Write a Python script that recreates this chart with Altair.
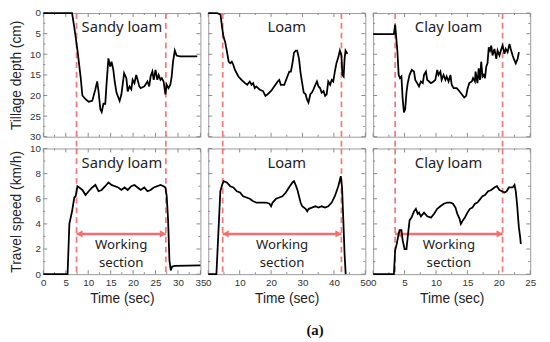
import altair as alt
import pandas as pd

# ---------------- data ----------------
soils = ["Sandy loam", "Loam", "Clay loam"]
x_max = [35, 50, 25]
x_major = [[0, 5, 10, 15, 20, 25, 30, 35],
           [0, 10, 20, 30, 40, 50],
           [0, 5, 10, 15, 20, 25]]
x_minor = [[2.5, 7.5, 12.5, 17.5, 22.5, 27.5, 32.5],
           [5, 15, 25, 35, 45],
           [2.5, 7.5, 12.5, 17.5, 22.5]]
depth_major = [0, 5, 10, 15, 20, 25, 30]
depth_minor = [2.5, 7.5, 12.5, 17.5, 22.5, 27.5]
speed_major = [0, 2, 4, 6, 8, 10]
speed_minor = [1, 3, 5, 7, 9]

# working section boundaries (sec)
work_start = [7.4, 4.6, 3.5]
work_end = [27.3, 42.4, 20.6]

# tillage depth (cm)
sandy_depth_t = [0, 6.4, 6.9, 7.6, 8.3, 8.7, 9.4, 10.1, 10.9, 11.6, 12.0, 12.3, 12.7, 13.0,
                 13.4, 13.8, 14.1, 14.5, 14.9, 15.2, 15.6, 15.9, 16.3, 17.0, 17.4, 18.0, 18.5,
                 18.8, 19.2, 19.6, 19.9, 20.3, 20.7, 21.0, 21.4, 21.7, 22.5, 23.2, 23.6, 23.9,
                 24.3, 24.6, 25.0, 25.4, 25.7, 26.1, 26.4, 26.8, 27.2, 27.5, 27.9, 28.3, 28.6,
                 28.9, 29.3, 29.7, 30.4, 34.3]
sandy_depth = [0, 0, 3.5, 9, 15.4, 20, 20.9, 21.5, 21.3, 18.5, 16.6, 19, 23.3, 24,
               22, 22, 17, 11, 13, 11.8, 13.8, 16.6, 19.3, 21.3, 19.7, 14.6, 15.8,
               19, 17.8, 18.5, 16.2, 17, 15, 16.2, 17.8, 18.2, 17.8, 16.6, 17.8, 15.4,
               14.2, 16.2, 13.8, 16.2, 15, 16.2, 15.8, 16.6, 19.7, 17.4, 18.2, 17.4, 15.4,
               11.8, 9.1, 10.3, 10.5, 10.5]

loam_depth_t = [0, 2.8, 3.9, 4.4, 4.9, 5.4, 5.9, 6.5, 7.0, 7.5, 8.0, 8.5, 9.6, 10.6, 11.7,
                12.4, 13.2, 13.8, 14.3, 14.8, 15.3, 16.4, 17.4, 18.2, 18.9, 20.0, 21.0, 22.1,
                22.6, 23.1, 24.2, 25.2, 25.8, 26.3, 26.8, 27.3, 27.9, 28.3, 28.9, 29.4, 29.9,
                30.4, 31.0, 31.4, 31.9, 32.5, 33.0, 33.5, 34.1, 34.6, 35.1, 35.6, 36.1, 36.7,
                37.2, 37.7, 38.2, 38.8, 39.3, 39.8, 40.3, 40.8, 41.4, 41.9, 42.4, 42.7, 43.1,
                43.4, 43.7, 44.3]
loam_depth = [0, 0, 0.4, 3.5, 5.9, 7.1, 9.1, 11.8, 12.2, 11.8, 12.6, 13.8, 15.4, 16.2, 17,
              17.4, 16.6, 17.4, 17, 18.2, 17.8, 18.6, 18.9, 20.1, 19.7, 18.9, 17.8, 16.6,
              16.2, 17.4, 17.4, 15.4, 14.2, 14.2, 12.2, 9.6, 9.1, 9.1, 11.1, 14.6, 17,
              19.3, 19.7, 20.9, 21.7, 19.7, 19.3, 18.5, 17.4, 16.6, 17.8, 18.2, 19.3, 18.9,
              20.1, 19.7, 16.6, 17.4, 16.2, 16.6, 14.2, 12.2, 10.7, 9.1, 10.3, 15, 15.4,
              11.1, 9.1, 9.9]

clay_depth_t = [0, 3.3, 3.5, 3.85, 4.06, 4.27, 4.5, 4.7, 4.9, 5.1, 5.3, 5.5, 5.8, 6.15, 6.5,
                6.7, 7.0, 7.3, 7.6, 7.9, 8.1, 8.4, 8.6, 8.9, 9.2, 9.6, 9.9, 10.2, 10.4, 10.7,
                10.9, 11.2, 11.5, 11.7, 12.0, 12.3, 12.5, 12.8, 13.3, 13.7, 14.1, 14.5, 14.8,
                15.0, 15.3, 15.7, 15.9, 16.2, 16.3, 16.6, 16.8, 17.0, 17.2, 17.4, 17.6, 17.8,
                18.0, 18.2, 18.4, 18.6, 18.8, 19.0, 19.3, 19.6, 19.8, 20.1, 20.4, 20.6, 20.9,
                21.1, 21.4, 21.7, 21.9, 22.2, 22.4, 22.7, 23.0, 23.2]
clay_depth = [5.1, 5.1, 2.8, 9.1, 15, 15.8, 15.4, 20.9, 24.1, 23.3, 19.3, 17, 15, 13.8, 14.2,
              16.2, 17, 17.8, 16.6, 17, 15, 14.2, 16.2, 16.6, 17, 16.6, 16.2, 13.8, 15, 14.2,
              16.2, 15, 16.2, 15.4, 16.6, 15, 17.4, 18.2, 18.2, 18.9, 19.7, 20.5, 20.1,
              18.5, 17, 16.6, 15.8, 16.6, 14.2, 17, 13.4, 16.2, 11.8, 15.4, 15, 15.8,
              13.0, 12.2, 8.3, 9.1, 7.9, 10.3, 8.7, 11.1, 9.1, 10.3, 8.7, 7.9, 9.9,
              8.7, 9.5, 7.5, 8.7, 10.3, 11.1, 12.2, 11.1, 9.5]

# travel speed (km/h)
sandy_speed_t = [0, 5.4, 5.8, 6.4, 6.9, 7.2, 7.6, 8.0, 8.7, 9.4, 10.1, 10.9, 11.6, 12.3, 13.0,
                 13.8, 14.5, 15.2, 15.9, 16.7, 17.4, 18.1, 18.8, 19.6, 20.3, 21.0, 21.7, 22.5,
                 23.2, 23.9, 24.6, 25.4, 26.1, 26.8, 27.2, 27.5, 27.8, 28.1, 28.4, 28.7, 29.3, 35]
sandy_speed = [0, 0, 4.0, 5.0, 6.1, 6.2, 7.0, 6.9, 6.7, 6.3, 6.6, 6.9, 7.1, 6.6, 6.7,
               7.0, 7.3, 7.1, 7.0, 6.9, 6.7, 6.9, 6.7, 7.0, 7.1, 6.9, 6.7, 6.9,
               6.6, 6.7, 6.9, 7.0, 7.1, 7.0, 6.9, 6.2, 4.3, 1.1, 0.3, 0.6, 0.65, 0.7]

loam_speed_t = [0, 2.6, 3.85, 4.4, 4.9, 5.9, 7.0, 8.0, 9.1, 10.1, 11.1, 12.2, 13.2, 14.3, 15.3,
                16.4, 17.4, 18.4, 19.5, 20.0, 20.5, 21.6, 22.6, 23.6, 24.7, 25.7, 26.8, 27.3,
                27.8, 28.4, 28.9, 29.4, 29.9, 31.0, 31.5, 32.0, 33.0, 34.1, 35.1, 36.1, 37.2,
                38.2, 39.3, 40.3, 41.4, 41.9, 42.2, 42.6, 43.0, 43.4, 43.75]
loam_speed = [0, 0, 6.6, 7.1, 7.4, 7.3, 7.0, 6.9, 6.6, 6.5, 6.2, 6.1, 6.0, 5.8, 5.7,
              5.7, 5.7, 5.7, 5.6, 5.4, 5.7, 6.0, 6.1, 6.2, 6.5, 6.9, 7.3, 7.4,
              7.1, 6.7, 6.2, 5.7, 5.4, 5.2, 5.0, 5.2, 5.3, 5.4, 5.3, 5.4, 5.3,
              5.4, 5.7, 6.2, 7.0, 7.5, 7.8, 6.9, 4.3, 1.6, 0]

clay_speed_t = [0, 3.3, 3.5, 3.75, 3.96, 4.2, 4.5, 4.7, 5.0, 5.3, 5.5, 5.8, 6.1, 6.5, 6.8, 7.1,
                7.3, 7.6, 8.1, 8.6, 9.2, 9.7, 10.2, 10.7, 11.25, 11.8, 12.3, 12.7, 13.1, 13.4,
                13.75, 13.96, 14.3, 14.6, 15.0, 15.4, 15.8, 16.2, 16.6, 17.0, 17.4, 17.8, 18.3,
                18.8, 19.3, 19.7, 20.1, 20.5, 20.9, 21.25, 21.6, 21.9, 22.2, 22.5, 22.7, 22.9,
                23.1, 23.2, 23.4, 23.5]
clay_speed = [0, 0, 1.9, 2.4, 2.95, 3.5, 3.5, 2.7, 2.0, 2.0, 2.95, 4.3, 4.5, 5.0, 5.2, 4.8,
              4.9, 4.6, 4.9, 4.6, 4.5, 4.8, 5.2, 5.4, 5.6, 5.7, 5.7, 5.6, 5.3, 4.8,
              4.4, 4.0, 4.3, 4.5, 4.9, 5.2, 5.3, 5.6, 5.7, 5.95, 6.2, 6.3, 6.6,
              6.7, 6.9, 7.0, 6.7, 6.6, 6.5, 6.6, 6.9, 6.9, 6.9, 7.1, 6.6, 5.6,
              4.3, 3.7, 2.95, 2.4]

depth_series = [(sandy_depth_t, sandy_depth), (loam_depth_t, loam_depth), (clay_depth_t, clay_depth)]
speed_series = [(sandy_speed_t, sandy_speed), (loam_speed_t, loam_speed), (clay_speed_t, clay_speed)]

label_x = [17.5, 25, 12]
arrow_level = 3.2
work_text = [("Working", 2.35), ("section", 0.92)]

# ---------------- styling ----------------
W, HT, HB = 160, 126, 128
GAP_V = 12
RED = "#F47C7E"
ARROW = "#F36E70"
FRAME = "#9a9a9a"
TICK = "#8a8a8a"
TXT_FONT = "Noto Sans"
AX_FONT = "Liberation Sans"


def tick_layers(X, Y, xmaj, xmin, ymaj, ymin, H):
    layers = []
    for vals, ln in ((xmaj, 4), (xmin, 2)):
        d = pd.DataFrame({"t": vals})
        base = alt.Chart(d).mark_rule(color=TICK, strokeWidth=1)
        layers.append(base.encode(x=X, y=alt.value(H), y2=alt.value(H - ln)))
        layers.append(base.encode(x=X, y=alt.value(0), y2=alt.value(ln)))
    for vals, ln in ((ymaj, 4), (ymin, 2)):
        d = pd.DataFrame({"v": vals})
        base = alt.Chart(d).mark_rule(color=TICK, strokeWidth=1)
        layers.append(base.encode(y=Y, x=alt.value(0), x2=alt.value(ln)))
        layers.append(base.encode(y=Y, x=alt.value(W), x2=alt.value(W - ln)))
    return layers


def panel(i, kind):
    top = kind == "depth"
    H = HT if top else HB
    xs = alt.Scale(domain=[0, x_max[i]], nice=False, zero=False)
    if top:
        ys = alt.Scale(domain=[0, 30], nice=False, reverse=True)
        ymaj, ymin = depth_major, depth_minor
        ytitle = "Tillage depth (cm)"
        t, v = depth_series[i]
        text_y = 3.5
    else:
        ys = alt.Scale(domain=[0, 10], nice=False)
        ymaj, ymin = speed_major, speed_minor
        ytitle = "Travel speed (km/h)"
        t, v = speed_series[i]
        text_y = 8.8
    if top:
        xaxis = None
    else:
        xaxis = alt.Axis(values=x_major[i], title="Time (sec)", labelFlush=False,
                         ticks=False, domain=False, grid=False, labelPadding=4,
                         titlePadding=4, labelOverlap=False)
    if i == 0:
        yaxis = alt.Axis(values=ymaj, title=ytitle, ticks=False, domain=False, grid=False,
                         labelPadding=3, titlePadding=6, labelOverlap=False, labelFlush=False)
    else:
        yaxis = None
    X = alt.X("t:Q", scale=xs, axis=xaxis)
    Y = alt.Y("v:Q", scale=ys, axis=yaxis)

    layers = []
    layers += tick_layers(X, Y, x_major[i], x_minor[i], ymaj, ymin, H)

    # dashed working-section boundaries
    rd = pd.DataFrame({"t": [work_start[i], work_end[i]]})
    ext = GAP_V if top else 0
    layers.append(alt.Chart(rd).mark_rule(color=RED, strokeWidth=1.8, strokeDash=[6, 4])
                  .encode(x=X, y=alt.value(0), y2=alt.value(H + ext)))

    if not top:
        ad = pd.DataFrame({"t": [work_start[i], work_end[i]], "v": [arrow_level, arrow_level]})
        layers.append(alt.Chart(ad).mark_line(color=ARROW, strokeWidth=2.5).encode(x=X, y=Y))
        l = pd.DataFrame({"t": [work_start[i]], "v": [arrow_level]})
        r = pd.DataFrame({"t": [work_end[i]], "v": [arrow_level]})
        layers.append(alt.Chart(l).mark_point(shape="M0,0 L1,-0.6 L1,0.6 Z", filled=True,
                                              size=150, color=ARROW, opacity=1)
                      .encode(x=X, y=Y))
        layers.append(alt.Chart(r).mark_point(shape="M0,0 L-1,-0.6 L-1,0.6 Z", filled=True,
                                              size=150, color=ARROW, opacity=1)
                      .encode(x=X, y=Y))
        mid = (work_start[i] + work_end[i]) / 2
        wt = pd.DataFrame({"t": [mid, mid], "v": [work_text[0][1], work_text[1][1]],
                           "s": [work_text[0][0], work_text[1][0]]})
        layers.append(alt.Chart(wt).mark_text(font=TXT_FONT, fontSize=13.5, color="#222",
                                              baseline="middle")
                      .encode(x=X, y=Y, text="s:N"))

    ld = pd.DataFrame({"t": t, "v": v})
    layers.append(alt.Chart(ld).mark_line(color="black", strokeWidth=1.8).encode(x=X, y=Y))

    td = pd.DataFrame({"t": [label_x[i]], "v": [text_y], "s": [soils[i]]})
    layers.append(alt.Chart(td).mark_text(font=TXT_FONT, fontSize=15, color="#222",
                                          baseline="middle")
                  .encode(x=X, y=Y, text="s:N"))

    return alt.layer(*layers).properties(width=W, height=H)


panels = [panel(i, "depth") for i in range(3)] + [panel(i, "speed") for i in range(3)]

chart = alt.concat(*panels, columns=3, spacing={"row": GAP_V, "column": 8},
                   bounds="flush").properties(
    title=alt.TitleParams("(a)", orient="bottom", anchor="middle", font="Liberation Serif",
                          fontSize=15, fontWeight="bold", color="#111", offset=17, dx=43),
    padding={"left": 1, "top": -4, "right": 5, "bottom": 2},
).configure_view(stroke=FRAME, strokeWidth=1).configure_axis(
    labelFont=AX_FONT, labelFontSize=10, labelColor="#333",
    titleFont=AX_FONT, titleFontSize=14, titleColor="#222", titleFontWeight="normal"
)

chart.save("out.html", embed_options={"renderer": "svg", "actions": False})
